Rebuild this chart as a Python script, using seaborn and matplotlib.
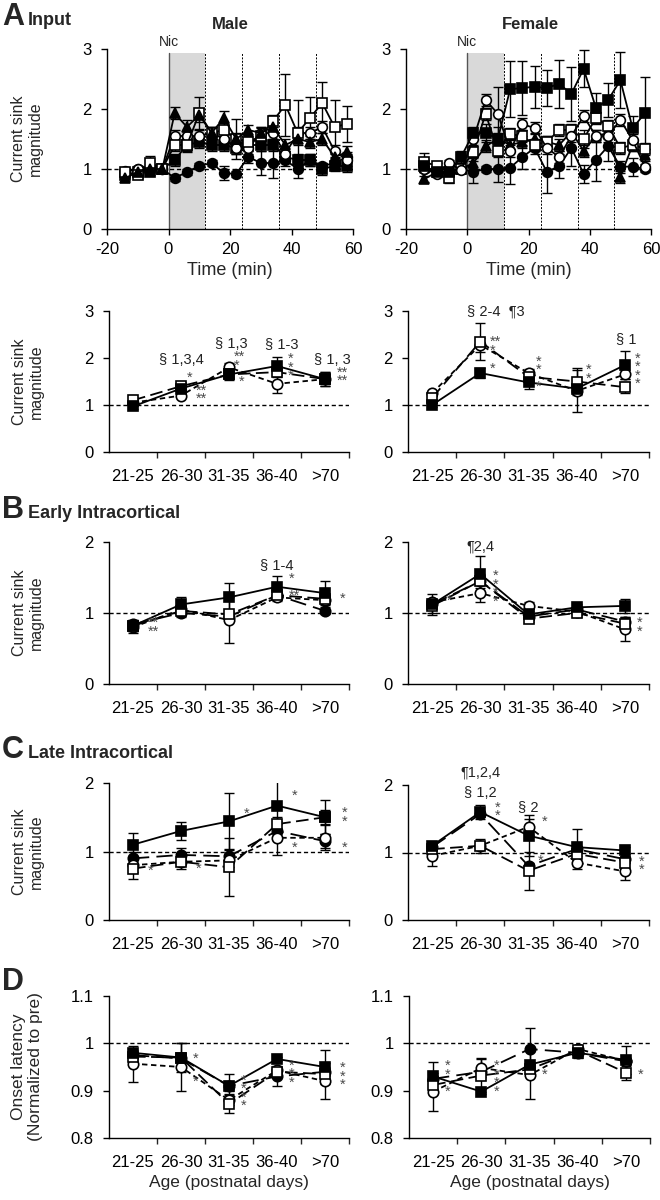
import numpy as np
import matplotlib
matplotlib.use("Agg")
import matplotlib.pyplot as plt
import seaborn as sns

sns.set_style("ticks")
plt.rcParams['font.family'] = ['Liberation Sans', 'DejaVu Sans']
plt.rcParams['axes.unicode_minus'] = False

# ---- data: time course (A, top row) ----
times = [-14, -10, -6, -2, 2, 6, 10, 14, 18, 22, 26, 30, 34, 38, 42, 46, 50, 54, 58]

m_tri = [0.85, 0.95, 1.0, 1.0, 1.93, 1.7, 1.9, 1.6, 1.85, 1.5, 1.65, 1.6, 1.7, 1.4, 1.5, 1.45, 1.5, 1.2, 1.28]
m_osq = [0.95, 0.9, 1.1, 1.0, 1.4, 1.4, 1.93, 1.6, 1.65, 1.5, 1.45, 1.55, 1.8, 2.07, 1.6, 1.85, 2.1, 1.7, 1.75]
m_fsq = [0.9, 0.95, 0.95, 1.0, 1.15, 1.4, 1.45, 1.4, 1.4, 1.35, 1.4, 1.4, 1.4, 1.2, 1.15, 1.15, 1.0, 1.05, 1.05]
m_oci = [0.97, 1.0, 1.03, 1.0, 1.55, 1.55, 1.55, 1.6, 1.5, 1.35, 1.35, 1.6, 1.6, 1.25, 1.6, 1.6, 1.7, 1.3, 1.15]
m_fci = [0.95, 1.0, 1.0, 1.0, 0.85, 0.95, 1.05, 1.1, 0.93, 0.92, 1.2, 1.1, 1.1, 1.15, 1.0, 1.15, 1.05, 1.1, 1.2]
m_tri_err = [0.05, 0.05, 0.05, 0.05, 0.1, 0.12, 0.12, 0.1, 0.12, 0.1, 0.08, 0.08, 0.08, 0.1, 0.1, 0.1, 0.1, 0.1, 0.1]
m_osq_err = [0.05, 0.05, 0.12, 0.05, 0.1, 0.1, 0.27, 0.1, 0.12, 0.33, 0.1, 0.15, 0.1, 0.52, 0.55, 0.35, 0.35, 0.45, 0.3]
m_fsq_err = [0.05, 0.05, 0.05, 0.05, 0.1, 0.12, 0.1, 0.1, 0.1, 0.1, 0.1, 0.1, 0.1, 0.1, 0.1, 0.1, 0.1, 0.08, 0.1]
m_oci_err = [0.05, 0.05, 0.05, 0.05, 0.1, 0.1, 0.1, 0.1, 0.1, 0.1, 0.1, 0.1, 0.1, 0.1, 0.1, 0.1, 0.1, 0.1, 0.1]
m_fci_err = [0.05, 0.05, 0.05, 0.05, 0.05, 0.05, 0.05, 0.05, 0.12, 0.05, 0.1, 0.2, 0.25, 0.1, 0.15, 0.1, 0.05, 0.08, 0.08]

f_fsq = [1.05, 0.95, 0.95, 1.2, 1.6, 1.6, 1.5, 2.33, 2.35, 2.37, 2.35, 2.42, 2.25, 2.67, 2.02, 2.15, 2.48, 1.68, 1.93]
f_oci = [1.0, 0.92, 1.1, 0.98, 1.5, 2.15, 1.92, 1.3, 1.75, 1.68, 1.35, 1.2, 1.55, 1.88, 1.55, 1.55, 1.82, 1.48, 1.04]
f_osq = [1.12, 1.05, 0.85, 1.0, 1.28, 1.92, 1.3, 1.58, 1.55, 1.4, 1.45, 1.65, 1.65, 1.5, 1.85, 1.72, 1.35, 1.4, 1.34]
f_tri = [0.83, 0.95, 0.95, 1.0, 1.1, 1.38, 1.5, 1.4, 1.45, 1.5, 1.45, 1.4, 1.62, 1.3, 1.55, 1.6, 0.87, 1.4, 1.23]
f_fci = [1.0, 0.95, 0.95, 1.0, 0.95, 1.0, 1.0, 1.02, 1.2, 1.35, 0.95, 1.05, 1.35, 0.92, 1.15, 1.38, 1.04, 1.04, 1.0]
f_fsq_err = [0.1, 0.05, 0.05, 0.1, 0.1, 0.15, 0.2, 0.47, 0.45, 0.35, 0.3, 0.4, 0.45, 0.31, 0.25, 0.28, 0.47, 0.2, 0.6]
f_oci_err = [0.05, 0.05, 0.05, 0.05, 0.1, 0.1, 0.45, 0.1, 0.1, 0.1, 0.1, 0.1, 0.1, 0.1, 0.1, 0.1, 0.1, 0.1, 0.05]
f_osq_err = [0.15, 0.05, 0.08, 0.05, 0.1, 0.1, 0.1, 0.1, 0.1, 0.1, 0.1, 0.1, 0.1, 0.15, 0.1, 0.1, 0.1, 0.1, 0.1]
f_tri_err = [0.05, 0.05, 0.05, 0.05, 0.1, 0.1, 0.1, 0.1, 0.1, 0.1, 0.1, 0.1, 0.1, 0.1, 0.1, 0.1, 0.1, 0.1, 0.1]
f_fci_err = [0.05, 0.05, 0.05, 0.05, 0.18, 0.05, 0.22, 0.27, 0.2, 0.1, 0.35, 0.2, 0.3, 0.15, 0.35, 0.25, 0.1, 0.15, 0.05]

# ---- data: age groups ----
age_labels = ['21-25', '26-30', '31-35', '36-40', '>70']

a_m_fsq = [0.97, 1.35, 1.65, 1.83, 1.55]; a_m_fsq_err = [0.05, 0.1, 0.12, 0.2, 0.15]
a_m_osq = [1.1, 1.4, 1.65, 1.7, 1.55];    a_m_osq_err = [0.08, 0.08, 0.1, 0.1, 0.15]
a_m_oci = [1.05, 1.2, 1.8, 1.45, 1.55];   a_m_oci_err = [0.05, 0.05, 0.1, 0.2, 0.1]
a_f_fsq = [1.0, 1.68, 1.48, 1.35, 1.85];  a_f_fsq_err = [0.05, 0.1, 0.15, 0.1, 0.3]
a_f_osq = [1.15, 2.35, 1.6, 1.5, 1.38];   a_f_osq_err = [0.05, 0.4, 0.1, 0.28, 0.12]
a_f_oci = [1.25, 2.28, 1.68, 1.3, 1.65];  a_f_oci_err = [0.05, 0.15, 0.08, 0.45, 0.1]

b_m_fsq = [0.82, 1.12, 1.22, 1.37, 1.28]; b_m_fsq_err = [0.08, 0.1, 0.2, 0.15, 0.17]
b_m_osq = [0.82, 1.03, 0.98, 1.25, 1.2];  b_m_osq_err = [0.08, 0.05, 0.05, 0.05, 0.05]
b_m_oci = [0.8, 1.05, 0.9, 1.22, 1.18];   b_m_oci_err = [0.08, 0.05, 0.32, 0.05, 0.05]
b_m_fci = [0.84, 1.0, 0.95, 1.25, 1.03];  b_m_fci_err = [0.05, 0.05, 0.05, 0.05, 0.05]
b_f_fsq = [1.12, 1.55, 0.98, 1.08, 1.1];  b_f_fsq_err = [0.15, 0.25, 0.05, 0.05, 0.1]
b_f_osq = [1.1, 1.45, 0.92, 1.0, 0.85];   b_f_osq_err = [0.1, 0.1, 0.05, 0.05, 0.1]
b_f_oci = [1.15, 1.28, 1.1, 1.02, 0.77];  b_f_oci_err = [0.05, 0.12, 0.05, 0.05, 0.17]
b_f_fci = [1.12, 1.45, 0.95, 1.05, 0.88]; b_f_fci_err = [0.05, 0.05, 0.05, 0.05, 0.05]

c_m_fsq = [1.1, 1.3, 1.44, 1.67, 1.5];    c_m_fsq_err = [0.17, 0.13, 0.42, 0.4, 0.25]
c_m_osq = [0.75, 0.85, 0.77, 1.4, 1.5];   c_m_osq_err = [0.15, 0.05, 0.42, 0.1, 0.1]
c_m_oci = [0.8, 0.85, 0.87, 1.2, 1.2];    c_m_oci_err = [0.1, 0.1, 0.1, 0.25, 0.18]
c_m_fci = [0.9, 0.95, 0.93, 1.3, 1.15];   c_m_fci_err = [0.1, 0.1, 0.1, 0.1, 0.1]
c_f_fsq = [1.1, 1.6, 1.25, 1.08, 1.03];   c_f_fsq_err = [0.05, 0.1, 0.3, 0.27, 0.05]
c_f_osq = [1.05, 1.1, 0.73, 0.98, 0.85];  c_f_osq_err = [0.05, 0.05, 0.28, 0.1, 0.1]
c_f_oci = [0.95, 1.1, 1.38, 0.85, 0.72];  c_f_oci_err = [0.15, 0.1, 0.12, 0.1, 0.12]
c_f_fci = [1.08, 1.57, 0.8, 1.05, 0.9];   c_f_fci_err = [0.05, 0.05, 0.05, 0.05, 0.05]

d_m_fsq = [0.98, 0.97, 0.91, 0.967, 0.95];  d_m_fsq_err = [0.005, 0.005, 0.025, 0.005, 0.035]
d_m_osq = [0.972, 0.97, 0.872, 0.94, 0.935]; d_m_osq_err = [0.005, 0.03, 0.02, 0.01, 0.01]
d_m_oci = [0.957, 0.95, 0.88, 0.943, 0.92]; d_m_oci_err = [0.038, 0.05, 0.01, 0.01, 0.038]
d_m_fci = [0.975, 0.968, 0.91, 0.93, 0.94]; d_m_fci_err = [0.005, 0.005, 0.01, 0.02, 0.01]
d_f_fsq = [0.93, 0.898, 0.955, 0.98, 0.965]; d_f_fsq_err = [0.03, 0.005, 0.005, 0.01, 0.03]
d_f_osq = [0.912, 0.932, 0.945, 0.985, 0.938]; d_f_osq_err = [0.02, 0.035, 0.005, 0.005, 0.015]
d_f_oci = [0.898, 0.948, 0.933, 0.988, 0.963]; d_f_oci_err = [0.04, 0.02, 0.05, 0.005, 0.005]
d_f_fci = [0.925, 0.94, 0.988, 0.98, 0.962]; d_f_fci_err = [0.005, 0.005, 0.045, 0.005, 0.005]

# marker styles: (marker, face colour, line style in age panels)
STY = {
    'fsq': ('s', 'k', '-'),
    'osq': ('s', 'white', (0, (7, 3))),
    'oci': ('o', 'white', (0, (3, 2))),
    'fci': ('o', 'k', (0, (9, 4))),
    'tri': ('^', 'k', '-'),
}
GREY = '#4a4a4a'

W, H = 660, 1200
fig = plt.figure(figsize=(W / 100, H / 100), dpi=100)


def px_axes(left, right, top, bottom):
    return fig.add_axes([left / W, 1 - bottom / H, (right - left) / W, (bottom - top) / H])


def series(ax, x, y, err, key, ls=None, ms=7):
    mk, fc, als = STY[key]
    ax.errorbar(x, y, yerr=err, fmt='none', ecolor='k', elinewidth=1, capsize=3.5, capthick=1, zorder=2)
    sns.lineplot(x=np.asarray(x, float), y=np.asarray(y, float), ax=ax, color='k', lw=1.3,
                 linestyle=ls if ls is not None else als, marker=mk, markersize=ms,
                 markerfacecolor=fc, markeredgecolor='k', markeredgewidth=1.2, zorder=3)


def style_axes(ax):
    sns.despine(ax=ax)
    for s in ['left', 'bottom']:
        ax.spines[s].set_linewidth(1)
        ax.spines[s].set_color('k')
    ax.tick_params(axis='both', direction='out', length=4, width=1, labelsize=12, colors='k')
    ax.tick_params(axis='y', pad=7)
    ax.set_xlabel('')
    ax.set_ylabel('')


def time_panel(ax, data):
    ax.axvspan(0, 12, ymin=0, ymax=2.93 / 3, color='#d9d9d9', zorder=0, lw=0)
    ax.plot([0, 0], [0, 2.93], color='#555555', lw=1, zorder=1)
    for v in [12, 24, 36, 48]:
        ax.plot([v, v], [0, 2.93], color='k', lw=0.7, ls=(0, (2, 1.5)), zorder=1)
    ax.axhline(1, color='k', lw=1, ls=(0, (3, 2)), zorder=1)
    for y, err, key in data:
        series(ax, times, y, err, key, ls='-', ms=7)
    ax.set_xlim(-20, 60)
    ax.set_ylim(0, 3)
    style_axes(ax)
    ax.set_xticks([-20, 0, 20, 40, 60])
    ax.set_yticks([0, 1, 2, 3])
    ax.tick_params(axis='x', pad=5)
    ax.set_xlabel('Time (min)', fontsize=13, labelpad=4)
    ax.text(0, 3.0, 'Nic', ha='center', va='bottom', fontsize=10)


def age_panel(ax, data, ylim, yticks, yticklabels, notes, stars):
    ax.axhline(1, color='k', lw=1, ls=(0, (3, 2)), zorder=1)
    xs = list(range(len(age_labels)))
    for y, err, key in data:
        series(ax, xs, y, err, key, ms=7.5)
    ax.set_xlim(-0.5, 4.5)
    ax.set_ylim(*ylim)
    style_axes(ax)
    ax.set_xticks(xs)
    ax.set_xticklabels(age_labels)
    ax.tick_params(axis='x', which='major', length=0, pad=12)
    ax.set_xticks([0.5, 1.5, 2.5, 3.5, 4.5], minor=True)
    ax.tick_params(axis='x', which='minor', direction='out', length=4, width=1)
    ax.set_yticks(yticks)
    ax.set_yticklabels(yticklabels)
    for x, y, t, ha in notes:
        ax.text(x, y, t, ha=ha, va='center', fontsize=10.5, color='#222222')
    for x, y, t in stars:
        ax.text(x, y, t, ha='left', va='center', fontsize=10.5, color=GREY, linespacing=0.5)


YL = 'Current sink\nmagnitude'

# ---- A: time course ----
ax = px_axes(107, 353, 49, 229)
time_panel(ax, [(m_fci, m_fci_err, 'fci'), (m_fsq, m_fsq_err, 'fsq'), (m_oci, m_oci_err, 'oci'),
                (m_osq, m_osq_err, 'osq'), (m_tri, m_tri_err, 'tri')])
ax.set_ylabel(YL, fontsize=11.5)
ax.yaxis.set_label_coords(-0.26, 0.5)

ax = px_axes(406, 651, 49, 229)
time_panel(ax, [(f_fci, f_fci_err, 'fci'), (f_tri, f_tri_err, 'tri'), (f_osq, f_osq_err, 'osq'),
                (f_oci, f_oci_err, 'oci'), (f_fsq, f_fsq_err, 'fsq')])

# ---- A: age groups ----
ax = px_axes(109, 349, 311, 452)
age_panel(ax, [(a_m_oci, a_m_oci_err, 'oci'), (a_m_osq, a_m_osq_err, 'osq'), (a_m_fsq, a_m_fsq_err, 'fsq')],
          (0, 3), [0, 1, 2, 3], ['0', '1', '2', '3'],
          [(1, 1.96, '§ 1,3,4', 'center'), (2.05, 2.3, '§ 1,3', 'center'),
           (3.1, 2.3, '§ 1-3', 'center'), (4.15, 1.96, '§ 1, 3', 'center')],
          [(1.12, 1.58, '*'), (1.3, 1.22, '**\n**'), (2.1, 1.93, '**\n*'),
           (2.2, 1.5, '*'), (3.22, 1.8, '*\n*\n*'), (4.25, 1.6, '**\n**')])
ax.set_ylabel(YL, fontsize=11.5)
ax.yaxis.set_label_coords(-0.27, 0.5)

ax = px_axes(408, 649, 311, 452)
age_panel(ax, [(a_f_oci, a_f_oci_err, 'oci'), (a_f_osq, a_f_osq_err, 'osq'), (a_f_fsq, a_f_fsq_err, 'fsq')],
          (0, 3), [0, 1, 2, 3], ['0', '1', '2', '3'],
          [(0.72, 2.98, '§ 2-4  ¶3', 'left'), (4.02, 2.4, '§ 1', 'center')],
          [(1.2, 2.25, '**\n*'), (1.2, 1.78, '*'), (2.15, 1.65, '*\n*\n\n*'),
           (3.18, 1.65, '*\n*'), (4.2, 1.72, '*\n*\n*\n*')])

# ---- B ----
ax = px_axes(109, 349, 542, 684)
age_panel(ax, [(b_m_fci, b_m_fci_err, 'fci'), (b_m_oci, b_m_oci_err, 'oci'), (b_m_osq, b_m_osq_err, 'osq'),
               (b_m_fsq, b_m_fsq_err, 'fsq')],
          (0, 2), [0, 1, 2], ['0', '1', '2'],
          [(3, 1.68, '§ 1-4', 'center')],
          [(0.3, 0.8, '**\n**'), (3.25, 1.36, '*\n\n**'), (4.3, 1.2, '*')])
ax.set_ylabel(YL, fontsize=11.5)
ax.yaxis.set_label_coords(-0.27, 0.5)

ax = px_axes(408, 649, 542, 684)
age_panel(ax, [(b_f_fci, b_f_fci_err, 'fci'), (b_f_oci, b_f_oci_err, 'oci'), (b_f_osq, b_f_osq_err, 'osq'),
               (b_f_fsq, b_f_fsq_err, 'fsq')],
          (0, 2), [0, 1, 2], ['0', '1', '2'],
          [(1, 1.93, '¶2,4', 'center')],
          [(0.3, 1.17, '*'), (1.25, 1.34, '*\n*\n*\n*'), (4.25, 0.8, '*\n*')])

# ---- C ----
ax = px_axes(109, 349, 783, 920)
age_panel(ax, [(c_m_fci, c_m_fci_err, 'fci'), (c_m_oci, c_m_oci_err, 'oci'), (c_m_osq, c_m_osq_err, 'osq'),
               (c_m_fsq, c_m_fsq_err, 'fsq')],
          (0, 2), [0, 1, 2], ['0', '1', '2'],
          [],
          [(0.3, 0.72, '*'), (1.3, 0.75, '*'), (2.3, 1.55, '*'), (3.3, 1.82, '*'), (3.3, 1.05, '*'),
           (4.35, 1.5, '*\n*'), (4.35, 1.05, '*')])
ax.set_ylabel(YL, fontsize=11.5)
ax.yaxis.set_label_coords(-0.27, 0.5)

ax = px_axes(408, 649, 785, 920)
age_panel(ax, [(c_f_fci, c_f_fci_err, 'fci'), (c_f_oci, c_f_oci_err, 'oci'), (c_f_osq, c_f_osq_err, 'osq'),
               (c_f_fsq, c_f_fsq_err, 'fsq')],
          (0, 2), [0, 1, 2], ['0', '1', '2'],
          [(1, 2.19, '¶1,2,4', 'center'), (1, 1.88, '§ 1,2', 'center'), (2, 1.67, '§ 2', 'center')],
          [(1.3, 1.6, '*\n*'), (2.28, 1.45, '*'), (2.2, 0.88, '*'), (4.28, 0.8, '*\n*')])

# ---- D ----
ax = px_axes(109, 349, 996, 1138)
age_panel(ax, [(d_m_fci, d_m_fci_err, 'fci'), (d_m_oci, d_m_oci_err, 'oci'), (d_m_osq, d_m_osq_err, 'osq'),
               (d_m_fsq, d_m_fsq_err, 'fsq')],
          (0.8, 1.1), [0.8, 0.9, 1.0, 1.1], ['0.8', '0.9', '1', '1.1'],
          [],
          [(1.25, 0.967, '*'), (1.25, 0.918, '*'), (2.25, 0.895, '*\n*\n*\n*'),
           (3.25, 0.935, '*\n*\n*'), (4.3, 0.93, '*\n*\n*')])
ax.set_ylabel('Onset latency\n(Normalized to pre)', fontsize=12.5)
ax.yaxis.set_label_coords(-0.275, 0.5)
ax.set_xlabel('Age (postnatal days)', fontsize=12.5)

ax = px_axes(409, 650, 996, 1138)
age_panel(ax, [(d_f_fci, d_f_fci_err, 'fci'), (d_f_oci, d_f_oci_err, 'oci'), (d_f_osq, d_f_osq_err, 'osq'),
               (d_f_fsq, d_f_fsq_err, 'fsq')],
          (0.8, 1.1), [0.8, 0.9, 1.0, 1.1], ['0.8', '0.9', '1', '1.1'],
          [],
          [(0.25, 0.925, '*\n*\n\n*'), (1.25, 0.925, '*\n*\n*\n*'),
           (2.25, 0.933, '*'), (4.25, 0.933, '*')])
ax.set_xlabel('Age (postnatal days)', fontsize=12.5)

# ---- panel letters and headers ----
for letter, title, base in [('A', 'Input', 25), ('B', 'Early Intracortical', 518),
                            ('C', 'Late Intracortical', 758), ('D', '', 990)]:
    fig.text(2 / W, 1 - base / H, letter, fontsize=22, fontweight='bold', va='baseline', ha='left')
    if title:
        fig.text(28 / W, 1 - base / H, title, fontsize=13, fontweight='bold', va='baseline', ha='left')
fig.text(230 / W, 1 - 29 / H, 'Male', fontsize=12, fontweight='bold', va='baseline', ha='center')
fig.text(530 / W, 1 - 29 / H, 'Female', fontsize=12, fontweight='bold', va='baseline', ha='center')

fig.savefig('out.png', dpi=100)
